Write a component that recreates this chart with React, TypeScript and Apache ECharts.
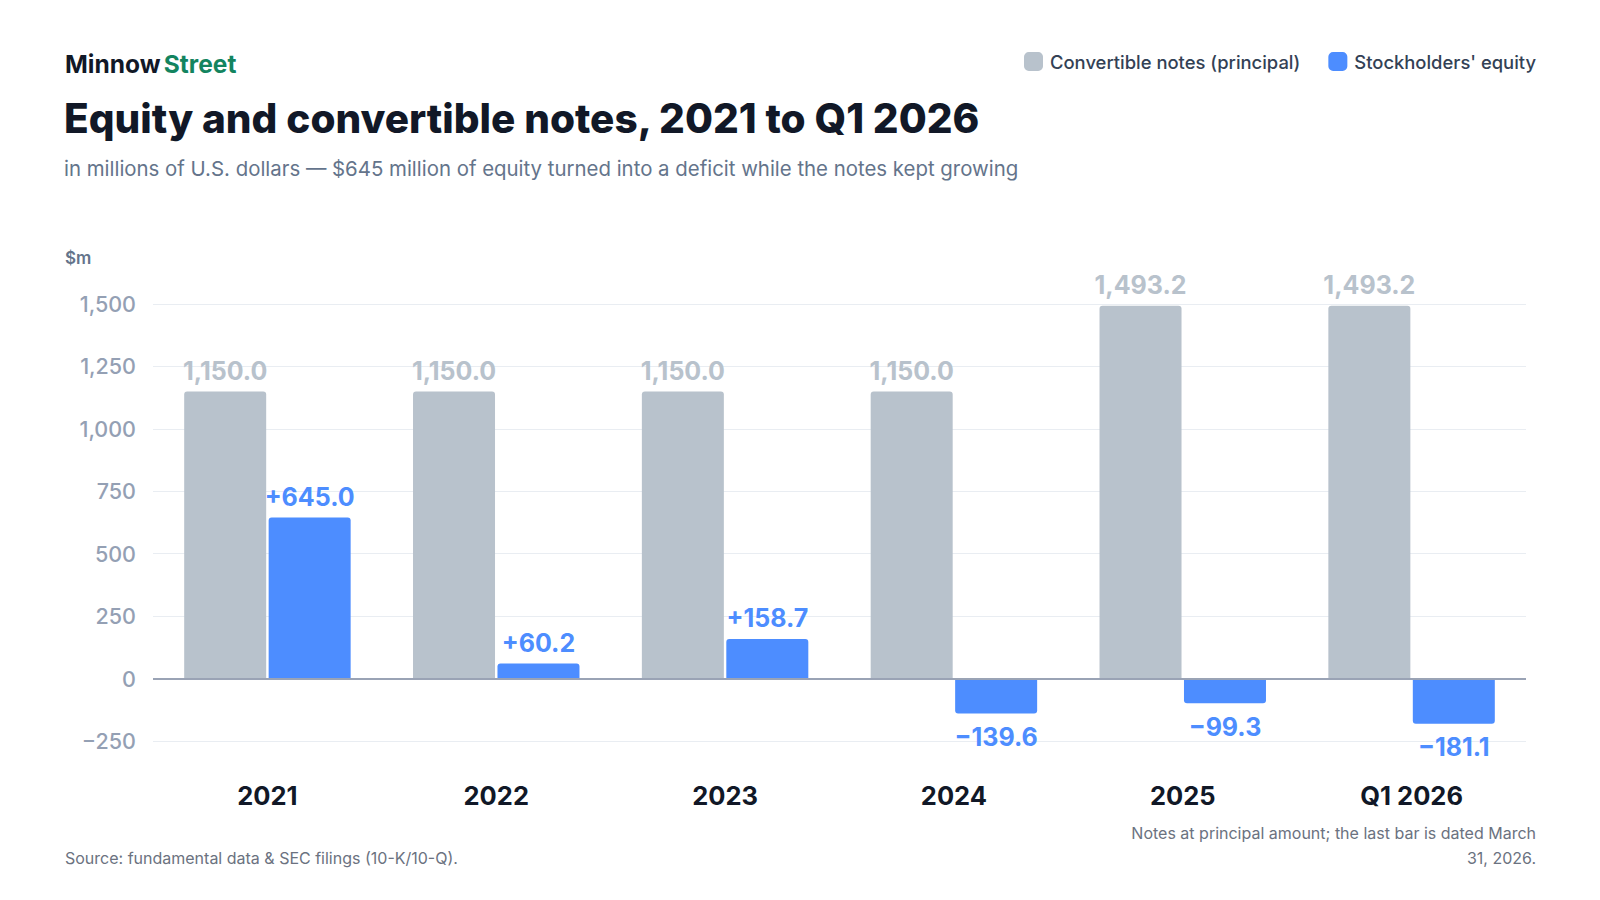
import React, { useEffect, useRef } from 'react';
import * as echarts from 'echarts';

const categories = ['2021', '2022', '2023', '2024', '2025', 'Q1 2026'];
const notesPrincipal = [1150.0, 1150.0, 1150.0, 1150.0, 1493.2, 1493.2];
const stockholdersEquity = [645.0, 60.2, 158.7, -139.6, -99.3, -181.1];
const yMin = -250;
const yMax = 1500;
const yStep = 250;

const FONT = 'Inter, "Noto Sans", sans-serif';
const GRAY = '#b8c2cc';
const BLUE = '#4d8dff';

const fmt = (v: number) =>
    Math.abs(v).toLocaleString('en-US', { minimumFractionDigits: 1, maximumFractionDigits: 1 });

export default function App() {
    const chartRef = useRef<HTMLDivElement>(null);

    useEffect(() => {
        if (!chartRef.current) return;
        const chart = echarts.init(chartRef.current, null, { renderer: 'svg' });

        const option = {
            animation: false,
            backgroundColor: '#ffffff',
            textStyle: { fontFamily: FONT },
            graphic: [
                {
                    type: 'text',
                    left: 65,
                    top: 51,
                    style: {
                        text: '{a|Minnow} {b|Street}',
                        rich: {
                            a: { fontFamily: FONT, fontSize: 24.5, fontWeight: 700, fill: '#111827' },
                            b: { fontFamily: FONT, fontSize: 24.5, fontWeight: 700, fill: '#13845f' }
                        }
                    }
                },
                {
                    type: 'text',
                    left: 64,
                    top: 98,
                    style: {
                        text: 'Equity and convertible notes, 2021 to Q1 2026',
                        fontFamily: FONT,
                        fontSize: 40.5,
                        fontWeight: 800,
                        fill: '#111827'
                    }
                },
                {
                    type: 'text',
                    left: 64,
                    top: 158,
                    style: {
                        text: 'in millions of U.S. dollars — $645 million of equity turned into a deficit while the notes kept growing',
                        fontFamily: FONT,
                        fontSize: 20.4,
                        fill: '#64748b'
                    }
                },
                {
                    type: 'text',
                    left: 65,
                    top: 249,
                    style: {
                        text: '$m',
                        fontFamily: FONT,
                        fontSize: 17,
                        fontWeight: 600,
                        fill: '#64748b'
                    }
                },
                {
                    type: 'text',
                    left: 65,
                    top: 850,
                    style: {
                        text: 'Source: fundamental data & SEC filings (10-K/10-Q).',
                        fontFamily: FONT,
                        fontSize: 16,
                        fill: '#6b7280'
                    }
                },
                {
                    type: 'text',
                    x: 1536,
                    y: 820,
                    style: {
                        text: 'Notes at principal amount; the last bar is dated March\n31, 2026.',
                        fontFamily: FONT,
                        fontSize: 16,
                        lineHeight: 25,
                        align: 'right',
                        verticalAlign: 'top',
                        fill: '#6b7280'
                    }
                }
            ],
            legend: {
                right: 59,
                top: 47,
                itemWidth: 19,
                itemHeight: 19,
                itemGap: 28,
                icon: 'roundRect',
                textStyle: { fontFamily: FONT, fontSize: 18.4, fontWeight: 500, color: '#334155', padding: [0, 0, 0, 2] },
                data: ['Convertible notes (principal)', "Stockholders' equity"]
            },
            grid: {
                left: 153,
                right: 74,
                top: 304,
                bottom: 159
            },
            xAxis: {
                type: 'category',
                data: categories,
                axisLine: { show: false, onZero: false },
                axisTick: { show: false },
                axisLabel: {
                    margin: 41,
                    fontFamily: FONT,
                    fontSize: 25.5,
                    fontWeight: 700,
                    color: '#111827'
                }
            },
            yAxis: {
                type: 'value',
                min: yMin,
                max: yMax,
                interval: yStep,
                axisLine: { show: false },
                axisTick: { show: false },
                splitLine: { lineStyle: { color: '#e9edf2', width: 1 } },
                axisLabel: {
                    margin: 17,
                    fontFamily: FONT,
                    fontSize: 21.5,
                    fontWeight: 500,
                    color: '#94a0b4',
                    formatter: (v: number) =>
                        (v < 0 ? '−' : '') + Math.abs(v).toLocaleString('en-US')
                }
            },
            series: [
                {
                    name: 'Convertible notes (principal)',
                    type: 'bar',
                    barWidth: 82,
                    barGap: '3%',
                    itemStyle: { color: GRAY, borderRadius: [3, 3, 0, 0] },
                    data: notesPrincipal,
                    label: {
                        show: true,
                        position: 'top',
                        distance: 8,
                        fontFamily: FONT,
                        fontSize: 25,
                        fontWeight: 700,
                        color: GRAY,
                        formatter: (p: any) => fmt(p.value)
                    },
                    markLine: {
                        silent: true,
                        symbol: 'none',
                        label: { show: false },
                        lineStyle: { color: '#9aa3b5', width: 2, type: 'solid' },
                        data: [{ yAxis: 0 }],
                        z: 5
                    }
                },
                {
                    name: "Stockholders' equity",
                    type: 'bar',
                    barWidth: 82,
                    data: stockholdersEquity.map((v) => ({
                        value: v,
                        itemStyle: { borderRadius: v >= 0 ? [3, 3, 0, 0] : [0, 0, 3, 3] },
                        label: { position: v >= 0 ? 'top' : 'bottom', distance: v >= 0 ? 8 : 11 }
                    })),
                    itemStyle: { color: BLUE },
                    label: {
                        show: true,
                        fontFamily: FONT,
                        fontSize: 25,
                        fontWeight: 700,
                        color: BLUE,
                        formatter: (p: any) => (p.value >= 0 ? '+' : '−') + fmt(p.value)
                    }
                }
            ]
        };

        chart.setOption(option);
        return () => chart.dispose();
    }, []);

    return (
        <div
            ref={chartRef}
            style={{ position: 'absolute', left: 0, top: 0, width: 1600, height: 900, background: '#fff' }}
        />
    );
}
